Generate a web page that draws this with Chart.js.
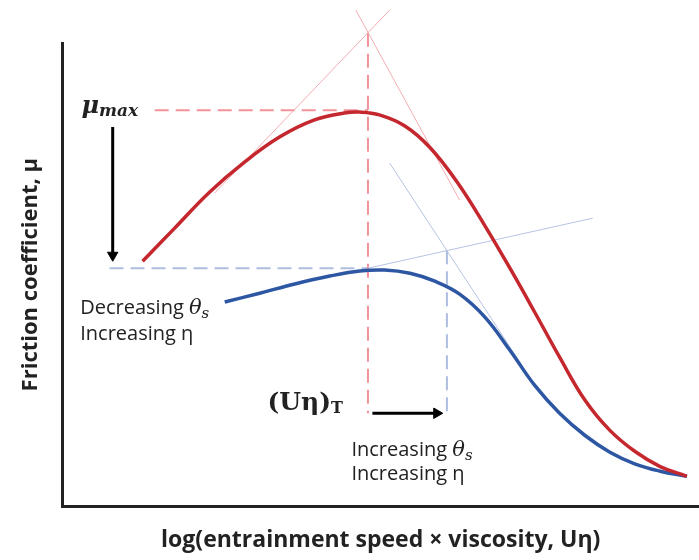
<!DOCTYPE html>
<html>
<head>
<meta charset="utf-8">
<script src="https://cdn.jsdelivr.net/npm/chart.js@4.4.0/dist/chart.umd.min.js"></script>
<style>
  html, body { margin: 0; padding: 0; background: #fff; overflow: hidden; }
  #chart { display: block; }
</style>
</head>
<body>
<canvas id="chart" width="699" height="560"></canvas>
<script>
// schematic curves (x: log(U eta), y: friction coefficient), both axes 0..100
const redX  = [12.6, 17.6, 23.1, 28.6, 34.1, 39.6, 44.3, 46.7, 49.8, 53.8, 57.7, 62.0, 66.4, 70.3, 74.2, 78.1, 82.1, 86.0, 89.9, 93.9, 98.1];
const redY  = [52.9, 60.0, 67.8, 74.3, 79.7, 83.4, 84.9, 85.1, 84.5, 82.1, 77.5, 70.0, 60.5, 51.4, 41.9, 32.2, 22.9, 16.4, 11.9, 8.6, 6.5];
const blueX = [25.5, 31.0, 36.5, 42.0, 46.7, 50.6, 54.6, 58.5, 62.4, 66.4, 70.3, 74.2, 78.1, 82.1, 86.0, 89.9, 93.9, 98.1];
const blueY = [44.1, 46.0, 48.0, 49.7, 50.8, 51.0, 50.3, 48.6, 45.8, 40.8, 33.7, 26.1, 20.1, 15.3, 11.7, 9.2, 7.6, 6.5];

// guide lines
const muMaxX = [14.5, 48.0],   muMaxY = [85.5, 85.5];
const muLowX = [7.4, 48.0],    muLowY = [51.4, 51.4];
const redPeakX = [48.0, 48.0], redPeakY = [102.2, 20.1];
const bluePeakX = [60.4, 60.4], bluePeakY = [55.3, 20.1];
const redTanUpX = [23.9, 51.4],    redTanUpY = [67.6, 107.1];
const redTanDownX = [46.1, 62.4],  redTanDownY = [107.1, 66.1];
const blueTanUpX = [48.0, 83.3],   blueTanUpY = [51.4, 62.2];
const blueTanDownX = [51.4, 72.3], blueTanDownY = [74.1, 30.2];
const arrowDownX = [7.9, 7.9],     arrowDownY = [81.9, 54.2];
const arrowRightX = [48.7, 58.8],  arrowRightY = [20.1, 20.1];

const AXIS_MAX = 100;

function pts(xs, ys) {
  return xs.map((x, i) => ({ x: x, y: ys[i] }));
}

function guide(xs, ys, color, width, dash) {
  return {
    data: pts(xs, ys),
    borderColor: color,
    borderWidth: width,
    borderDash: dash || [],
    pointRadius: 0,
    clip: false,
    order: 5
  };
}

function curve(xs, ys, color) {
  return {
    data: pts(xs, ys),
    borderColor: color,
    borderWidth: 3.5,
    pointRadius: 0,
    tension: 0.4,
    clip: false,
    order: 2
  };
}

function arrow(xs, ys, rot) {
  return {
    data: pts(xs, ys),
    borderColor: '#000',
    backgroundColor: '#000',
    borderWidth: 3,
    pointStyle: 'triangle',
    pointRadius: [0, 6],
    pointRotation: rot,
    pointBorderWidth: 1,
    clip: false,
    order: 1
  };
}

const serif = '"DejaVu Serif", serif';
const sans = '"Open Sans", sans-serif';

// annotation text, anchored at left / baseline in data units
const notes = [
  { x: 3.0, y: 84.9, parts: [['μ', 'bold italic 24px ' + serif, 0], ['max', 'bold italic 17px ' + serif, 3]] },
  { x: 2.8, y: 41.5, parts: [['Decreasing ', '20px ' + sans, 0], ['θ', 'italic 21px ' + serif, 0], ['s', 'italic 15px ' + serif, 4]] },
  { x: 2.8, y: 35.9, parts: [['Increasing η', '20px ' + sans, 0]] },
  { x: 32.2, y: 20.7, parts: [['(Uη)', 'bold 25px ' + serif, 0], ['T', 'bold 16px ' + serif, 3]] },
  { x: 45.4, y: 10.8, parts: [['Increasing ', '20px ' + sans, 0], ['θ', 'italic 21px ' + serif, 0], ['s', 'italic 15px ' + serif, 4]] },
  { x: 45.4, y: 5.6, parts: [['Increasing η', '20px ' + sans, 0]] }
];

const notesPlugin = {
  id: 'notes',
  afterDatasetsDraw(chart) {
    const ctx = chart.ctx;
    const xs = chart.scales.x, ys = chart.scales.y;
    ctx.save();
    ctx.fillStyle = '#222';
    ctx.textBaseline = 'alphabetic';
    ctx.textAlign = 'left';
    notes.forEach(n => {
      let px = xs.getPixelForValue(n.x);
      const py = ys.getPixelForValue(n.y);
      n.parts.forEach(p => {
        ctx.font = p[1];
        ctx.fillText(p[0], px, py + p[2]);
        px += ctx.measureText(p[0]).width;
      });
    });
    ctx.restore();
  }
};

new Chart(document.getElementById('chart'), {
  type: 'scatter',
  data: {
    datasets: [
      guide(redTanUpX, redTanUpY, '#f2aeb1', 1),
      guide(redTanDownX, redTanDownY, '#f2aeb1', 1),
      guide(blueTanUpX, blueTanUpY, '#b6c3e4', 1),
      guide(blueTanDownX, blueTanDownY, '#b6c3e4', 1),
      guide(muMaxX, muMaxY, '#f2939a', 2, [14, 7]),
      guide(redPeakX, redPeakY, '#f2939a', 2, [14, 7]),
      guide(muLowX, muLowY, '#aebde0', 2, [14, 7]),
      guide(bluePeakX, bluePeakY, '#aebde0', 2, [14, 7]),
      curve(redX, redY, '#c4272d'),
      curve(blueX, blueY, '#2d56a3'),
      arrow(arrowDownX, arrowDownY, [0, 180]),
      arrow(arrowRightX, arrowRightY, [0, 90])
    ].map(d => Object.assign({ showLine: true }, d))
  },
  options: {
    responsive: false,
    maintainAspectRatio: false,
    animation: false,
    layout: { autoPadding: false, padding: { top: 43, right: 0, left: 0, bottom: 0 } },
    plugins: { legend: { display: false }, tooltip: { enabled: false } },
    scales: {
      x: {
        type: 'linear', min: 0, max: AXIS_MAX,
        grid: { display: false, drawTicks: false },
        ticks: { display: false },
        border: { display: true, color: '#222', width: 3 },
        title: {
          display: true,
          text: 'log(entrainment speed × viscosity, Uη)',
          color: '#222',
          font: { family: 'Open Sans', size: 23, weight: 'bold' },
          padding: { top: 20, bottom: 6 }
        }
      },
      y: {
        type: 'linear', min: 0, max: AXIS_MAX,
        grid: { display: false, drawTicks: false },
        ticks: { display: false },
        border: { display: true, color: '#222', width: 3 },
        title: {
          display: true,
          text: 'Friction coefficient, μ',
          color: '#222',
          font: { family: 'Open Sans', size: 22, weight: 'bold' },
          padding: { top: 18, bottom: 18 }
        }
      }
    }
  },
  plugins: [notesPlugin]
});
</script>
</body>
</html>
